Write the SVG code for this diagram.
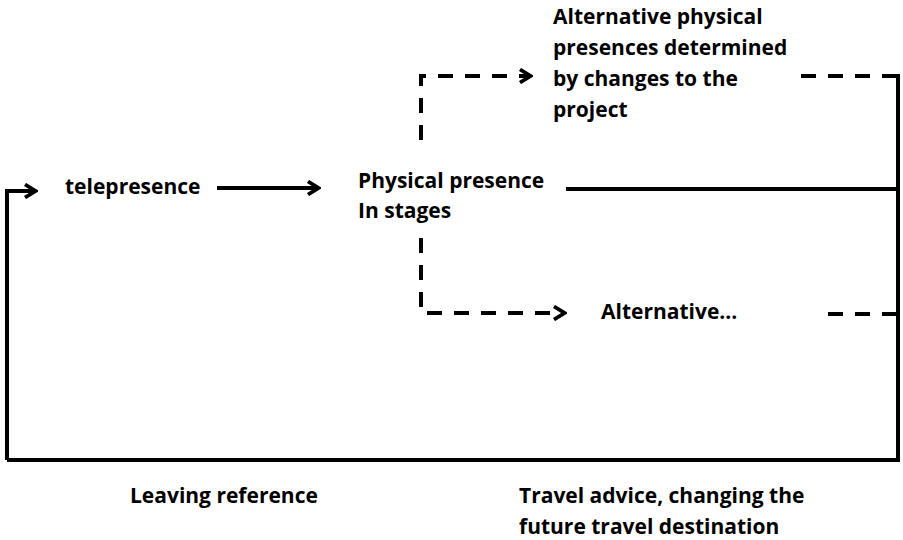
<svg xmlns="http://www.w3.org/2000/svg" width="903" height="540" viewBox="0 0 903 540">
<style>
text{font-family:"Open Sans",Lato,"Liberation Sans",sans-serif;font-weight:bold;font-size:21px;fill:#000}
.ln{fill:none;stroke:#000;stroke-width:4}
.ds{stroke-dasharray:15 12}
</style>
<defs>
<marker id="ah2" viewBox="0 0 16 16" refX="14" refY="8" markerWidth="16" markerHeight="16" markerUnits="userSpaceOnUse" orient="auto">
<path d="M3,1.5 L13.5,8 L3,14.5" fill="none" stroke="#000" stroke-width="3.8"/>
</marker>
</defs>
<g id="connectors">
<path class="ln" d="M7,460 L7,191 L36,191" marker-end="url(#ah2)"/>
<path class="ln" d="M217,188 L319,188" marker-end="url(#ah2)"/>
<path class="ln ds" d="M421,140 L421,76 L531,76" marker-end="url(#ah2)"/>
<path class="ln ds" d="M421,238 L421,313 L565,313" marker-end="url(#ah2)"/>
<path class="ln" d="M566,189 L898,189"/>
<path class="ln ds" d="M897,76 L800,76" />
<path class="ln" d="M898,74 L898,460 L7,460"/>
<path class="ln ds" d="M897,314 L822,314"/>
</g>
<g id="telepresence"><text x="65" y="194">telepresence</text></g>
<g id="physical"><text x="358" y="188">Physical presence</text><text x="358" y="218">In stages</text></g>
<g id="alt-physical"><text x="553" y="24">Alternative physical</text><text x="553" y="55">presences determined</text><text x="553" y="86">by changes to the</text><text x="553" y="117">project</text></g>
<g id="alternative"><text x="601" y="319">Alternative...</text></g>
<g id="leaving"><text x="130" y="503">Leaving reference</text></g>
<g id="travel"><text x="519" y="503">Travel advice, changing the</text><text x="519" y="534">future travel destination</text></g>
</svg>
